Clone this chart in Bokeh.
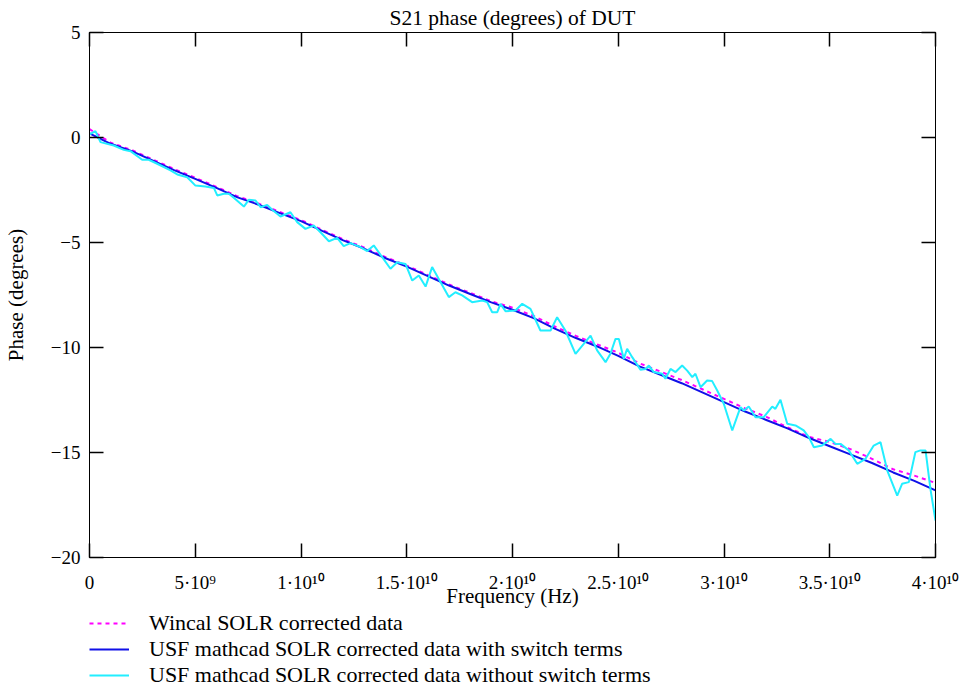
from bokeh.plotting import figure
from bokeh.models import Range1d, LinearAxis, FixedTicker, Legend, LegendItem
from bokeh.layouts import column
from bokeh.embed import file_html
from bokeh.resources import INLINE

FONT = "Liberation Serif"

# ---------------- data ----------------
title_text = "S21 phase (degrees) of DUT"
x_label = "Frequency (Hz)"
y_label = "Phase (degrees)"

x_ticks_hz = [0, 5e9, 1e10, 1.5e10, 2e10, 2.5e10, 3e10, 3.5e10, 4e10]
x_tick_labels = ["0", "5·10⁹", "1·10¹⁰", "1.5·10¹⁰", "2·10¹⁰", "2.5·10¹⁰",
                 "3·10¹⁰", "3.5·10¹⁰", "4·10¹⁰"]
y_ticks = [-20, -15, -10, -5, 0, 5]
y_tick_labels = ["−20", "−15", "−10", "−5", "0", "5"]

series_names = ["Wincal SOLR corrected data",
                "USF mathcad SOLR corrected data with switch terms",
                "USF mathcad SOLR corrected data without switch terms"]
series_colors = ["#FF00FF", "#1010E8", "#22EEFF"]
series_dash = ["4 4", "solid", "solid"]

# Wincal SOLR (magenta, dotted), 1 GHz steps
wincal_ghz = list(range(0, 41))
wincal_phase = [0.4, -0.25, -0.6, -1.05, -1.5, -1.92, -2.35, -2.8, -3.15, -3.55,
                -3.93, -4.4, -4.85, -5.25, -5.7, -6.1, -6.55, -7.0, -7.4, -7.8,
                -8.1, -8.5, -9.0, -9.45, -9.85, -10.25, -10.75, -11.15, -11.55, -12.0,
                -12.45, -12.9, -13.3, -13.8, -14.25, -14.5, -14.85, -15.3, -15.8, -16.1,
                -16.45]

# USF with switch terms (blue), 1 GHz steps
with_sw_ghz = list(range(0, 41))
with_sw_phase = [0.2, -0.3, -0.65, -1.1, -1.55, -1.97, -2.4, -2.85, -3.2, -3.6,
                 -3.98, -4.45, -4.9, -5.3, -5.75, -6.15, -6.6, -7.05, -7.45, -7.85,
                 -8.2, -8.6, -9.1, -9.55, -9.95, -10.4, -10.9, -11.3, -11.7, -12.15,
                 -12.6, -13.05, -13.45, -13.85, -14.3, -14.7, -15.1, -15.5, -15.95, -16.35,
                 -16.8]

# USF without switch terms (cyan)
no_sw_ghz = [0.0, 0.28, 0.52, 1.15, 1.62, 1.94, 2.49, 2.80, 3.20, 3.83,
             4.15, 4.62, 5.01, 5.48, 5.88, 6.04, 6.35, 6.59, 6.82, 7.30,
             7.53, 7.85, 8.09, 8.40, 8.64, 9.03, 9.50, 9.82, 10.21, 10.60,
             10.92, 11.32, 11.71, 12.02, 12.34, 12.81, 13.13, 13.44, 13.84, 14.23,
             14.55, 14.94, 15.26, 15.57, 15.89, 16.20, 16.60, 16.99, 17.30, 17.62,
             18.09, 18.57, 18.80, 19.04, 19.28, 19.43, 19.67, 20.14, 20.46, 20.85,
             21.32, 21.80, 22.11, 22.50, 22.98, 23.69, 24.00, 24.40, 24.63, 24.87,
             25.03, 25.26, 25.42, 25.66, 26.05, 26.29, 26.45, 26.68, 27.08, 27.23,
             27.47, 27.71, 28.02, 28.26, 28.50, 28.65, 28.89, 29.20, 29.44, 29.68,
             29.99, 30.39, 30.78, 30.94, 31.17, 31.49, 31.88, 32.28, 32.43, 32.67,
             32.99, 33.38, 33.77, 34.01, 34.25, 34.64, 35.04, 35.27, 35.51, 35.90,
             36.30, 36.69, 37.08, 37.40, 37.72, 38.03, 38.19, 38.42, 38.74, 39.05,
             39.29, 39.53, 39.76, 40.00]
no_sw_phase = [0.15, 0.30, -0.22, -0.38, -0.59, -0.65, -1.06, -1.06, -1.25, -1.57,
               -1.76, -1.89, -2.29, -2.33, -2.40, -2.76, -2.68, -2.68, -2.87, -3.29,
               -2.97, -3.00, -3.32, -3.21, -3.44, -3.76, -3.56, -4.03, -4.35, -4.19,
               -4.51, -4.94, -4.78, -5.17, -5.03, -5.22, -5.41, -5.14, -5.70, -6.25,
               -5.94, -6.02, -6.81, -6.57, -7.10, -6.17, -6.89, -7.60, -7.37, -7.52,
               -7.84, -7.76, -7.84, -8.32, -8.32, -7.92, -8.27, -8.24, -7.92, -8.16,
               -9.19, -9.19, -8.56, -9.19, -10.30, -9.43, -10.14, -10.70, -10.30, -9.59,
               -9.59, -10.54, -10.06, -10.46, -11.06, -11.02, -10.86, -11.17, -11.25, -11.49,
               -11.02, -11.17, -10.86, -11.10, -11.41, -11.25, -11.89, -11.57, -11.60, -12.05,
               -12.68, -13.95, -12.84, -13.00, -12.81, -13.32, -13.32, -12.81, -12.92, -12.49,
               -13.63, -13.71, -13.95, -14.27, -14.75, -14.67, -14.35, -14.59, -14.59, -14.90,
               -15.54, -15.30, -14.67, -14.51, -15.86, -16.65, -17.05, -16.49, -16.41, -14.98,
               -14.90, -14.90, -16.73, -18.24]

series_x = [[g * 1e9 for g in wincal_ghz],
            [g * 1e9 for g in with_sw_ghz],
            [g * 1e9 for g in no_sw_ghz]]
series_y = [wincal_phase, with_sw_phase, no_sw_phase]

# ---------------- main figure ----------------
p = figure(frame_width=846, frame_height=525,
           x_range=Range1d(0, 4e10), y_range=Range1d(-20, 5),
           output_backend="svg", toolbar_location=None,
           min_border_left=89, min_border_right=26,
           min_border_top=32, min_border_bottom=0,
           x_axis_type=None, y_axis_type=None)
p.background_fill_color = "white"
p.border_fill_color = "white"
p.outline_line_color = "black"
p.outline_line_width = 1
p.xgrid.visible = False
p.ygrid.visible = False

p.title.text = title_text
p.title.align = "center"
p.title.text_font = FONT
p.title.text_font_size = "21.5px"
p.title.text_font_style = "normal"
p.title.text_color = "black"
p.title.standoff = 5
p.title.offset = 0


def style_axis(ax, labels, ticks, show_labels):
    ax.ticker = FixedTicker(ticks=ticks)
    ax.major_tick_in = 14
    ax.major_tick_out = 0
    ax.minor_tick_line_color = None
    ax.axis_line_color = "black"
    ax.major_tick_line_color = "black"
    ax.major_tick_line_width = 1.5
    if show_labels:
        ax.major_label_overrides = {t: l for t, l in zip(ticks, labels)}
        ax.major_label_text_font = FONT
        ax.major_label_text_font_size = "19px"
        ax.major_label_text_color = "black"
    else:
        ax.major_label_overrides = {t: "" for t in ticks}
        ax.major_label_text_font_size = "0px"
        ax.major_label_standoff = 0


xb = LinearAxis()
style_axis(xb, x_tick_labels, x_ticks_hz, True)
xb.major_label_standoff = 14
xb.axis_label = x_label
xb.axis_label_text_font = FONT
xb.axis_label_text_font_size = "21px"
xb.axis_label_text_font_style = "normal"
xb.axis_label_text_color = "black"
xb.axis_label_standoff = -12
p.add_layout(xb, "below")

xt = LinearAxis()
style_axis(xt, x_tick_labels, x_ticks_hz, False)
p.add_layout(xt, "above")

yl = LinearAxis()
style_axis(yl, y_tick_labels, y_ticks, True)
yl.major_label_standoff = 9
yl.axis_label = y_label
yl.axis_label_text_font = FONT
yl.axis_label_text_font_size = "21px"
yl.axis_label_text_font_style = "normal"
yl.axis_label_text_color = "black"
yl.axis_label_standoff = 20
p.add_layout(yl, "left")

yr = LinearAxis()
style_axis(yr, y_tick_labels, y_ticks, False)
p.add_layout(yr, "right")

for xs, ys, col, dash in zip(series_x, series_y, series_colors, series_dash):
    p.line(xs, ys, line_color=col, line_width=2, line_dash=dash)

# ---------------- legend strip below the chart ----------------
# same series drawn far outside this strip's visible range: only their legend keys show
lg = figure(width=961, height=87, x_range=Range1d(0, 1), y_range=Range1d(100, 101),
            output_backend="svg", toolbar_location=None,
            min_border_left=88, min_border_right=0,
            min_border_top=0, min_border_bottom=0,
            x_axis_type=None, y_axis_type=None)
lg.outline_line_color = None
lg.background_fill_color = "white"
lg.border_fill_color = "white"
lg.grid.visible = False

keys = []
for name, xs, ys, col, dash in zip(series_names, series_x, series_y,
                                   series_colors, series_dash):
    r = lg.line(xs, ys, line_color=col, line_width=2, line_dash=dash)
    keys.append(LegendItem(label=name, renderers=[r]))

legend = Legend(items=keys, location="top_left", orientation="vertical")
legend.label_text_font = FONT
legend.label_text_font_size = "22px"
legend.label_text_color = "black"
legend.glyph_width = 40
legend.glyph_height = 20
legend.label_height = 20
legend.label_standoff = 20
legend.spacing = -7
legend.padding = 0
legend.margin = 0
legend.border_line_color = None
legend.background_fill_alpha = 0
lg.add_layout(legend, "center")

layout = column(p, lg, spacing=0)
open("out.html", "w").write(file_html(layout, INLINE))
